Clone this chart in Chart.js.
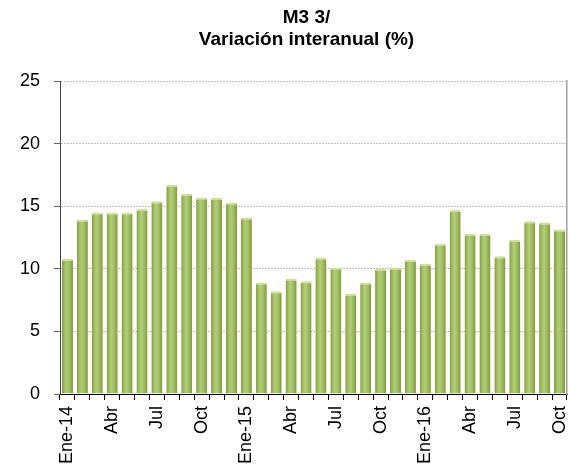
<!DOCTYPE html>
<html><head><meta charset="utf-8">
<script src="https://cdn.jsdelivr.net/npm/chart.js@4.4.1/dist/chart.umd.min.js"></script>
<style>html,body{margin:0;padding:0;background:#fff}#wrap{width:570px;height:475px}</style>
</head><body><div id="wrap"><canvas id="c" width="570" height="475"></canvas></div>
<script>
const titleLines = ["M3 3/", "Variación interanual (%)"];
const months = ["Ene-14","Feb-14","Mar-14","Abr-14","May-14","Jun-14","Jul-14","Ago-14","Sep-14","Oct-14","Nov-14","Dic-14",
  "Ene-15","Feb-15","Mar-15","Abr-15","May-15","Jun-15","Jul-15","Ago-15","Sep-15","Oct-15","Nov-15","Dic-15",
  "Ene-16","Feb-16","Mar-16","Abr-16","May-16","Jun-16","Jul-16","Ago-16","Sep-16","Oct-16"];
const tickLabels = ["Ene-14","","","Abr","","","Jul","","","Oct","","",
  "Ene-15","","","Abr","","","Jul","","","Oct","","",
  "Ene-16","","","Abr","","","Jul","","","Oct"];
const m3Values = [10.8,13.95,14.5,14.5,14.5,14.8,15.4,16.7,16.0,15.7,15.65,15.3,
  14.1,8.9,8.2,9.2,9.0,10.9,10.1,8.0,8.9,10.0,10.1,10.7,
  10.4,12.0,14.7,12.8,12.8,11.0,12.3,13.8,13.7,13.15];
const yMin = 0, yMax = 25, yStep = 5;

const FONT = "'Liberation Sans', Arial, sans-serif";
const BAR_PCT = 0.74;

function barFill(ctx) {
  const chart = ctx.chart, xs = chart.scales && chart.scales.x;
  if (!xs || ctx.type !== 'data' || !isFinite(xs.width) || xs.width <= 0) return '#9bbb59';
  const cx = xs.getPixelForValue(ctx.dataIndex);
  const w = xs.width / months.length * BAR_PCT;
  const g = chart.ctx.createLinearGradient(cx - w / 2, 0, cx + w / 2, 0);
  g.addColorStop(0, '#7f9c40');
  g.addColorStop(0.25, '#a3c063');
  g.addColorStop(0.45, '#b4cd78');
  g.addColorStop(0.75, '#9ab858');
  g.addColorStop(1, '#7c973d');
  return g;
}

const shiftTitle = {
  id: 'shiftTitle',
  afterLayout(chart) {
    const t = chart.titleBlock;
    if (t) { t.left -= 7; t.right -= 7; }
  }
};

new Chart(document.getElementById('c'), {
  type: 'bar',
  data: {
    labels: months,
    datasets: [{
      data: m3Values,
      backgroundColor: barFill,
      borderColor: '#cfe195',
      borderWidth: {top: 2, left: 0, right: 0, bottom: 0},
      borderSkipped: 'bottom',
      barPercentage: BAR_PCT,
      categoryPercentage: 1.0
    }]
  },
  options: {
    responsive: false,
    animation: false,
    layout: {padding: 0},
    plugins: {
      legend: {display: false},
      tooltip: {enabled: false},
      title: {
        display: true,
        text: titleLines,
        fullSize: false,
        color: '#000',
        font: {family: FONT, size: 19, weight: 'bold', lineHeight: 1.16},
        padding: {top: 7, bottom: 30}
      }
    },
    scales: {
      x: {
        grid: {display: true, offset: true, drawOnChartArea: false, drawTicks: true, tickLength: 6, tickColor: '#000', color: '#000'},
        border: {display: true, color: '#000', width: 1},
        ticks: {
          autoSkip: false, maxRotation: 90, minRotation: 90, padding: 6,
          color: '#000', font: {family: FONT, size: 18},
          callback: (v, i) => tickLabels[i]
        },
        afterFit: (s) => { s.height = 81; s.paddingLeft = 0; s.paddingRight = 0; }
      },
      y: {
        min: yMin, max: yMax,
        ticks: {stepSize: yStep, color: '#000', padding: 14, font: {family: FONT, size: 18}},
        grid: {color: '#c4c4c4', borderDash: [1, 1], tickLength: 6, tickColor: '#666', tickBorderDash: [], drawTicks: true},
        border: {display: true, color: '#444', dash: [2, 1], width: 1},
        afterFit: (s) => { s.width = 60; s.paddingTop = 0; s.paddingBottom = 0; }
      },
      y2: {
        position: 'right',
        display: true,
        grid: {drawOnChartArea: false, drawTicks: false},
        ticks: {display: false},
        border: {display: true, color: '#a0a0a0', width: 1.5},
        afterFit: (s) => { s.width = 3; }
      }
    }
  },
  plugins: [shiftTitle]
});
</script>
</body></html>
